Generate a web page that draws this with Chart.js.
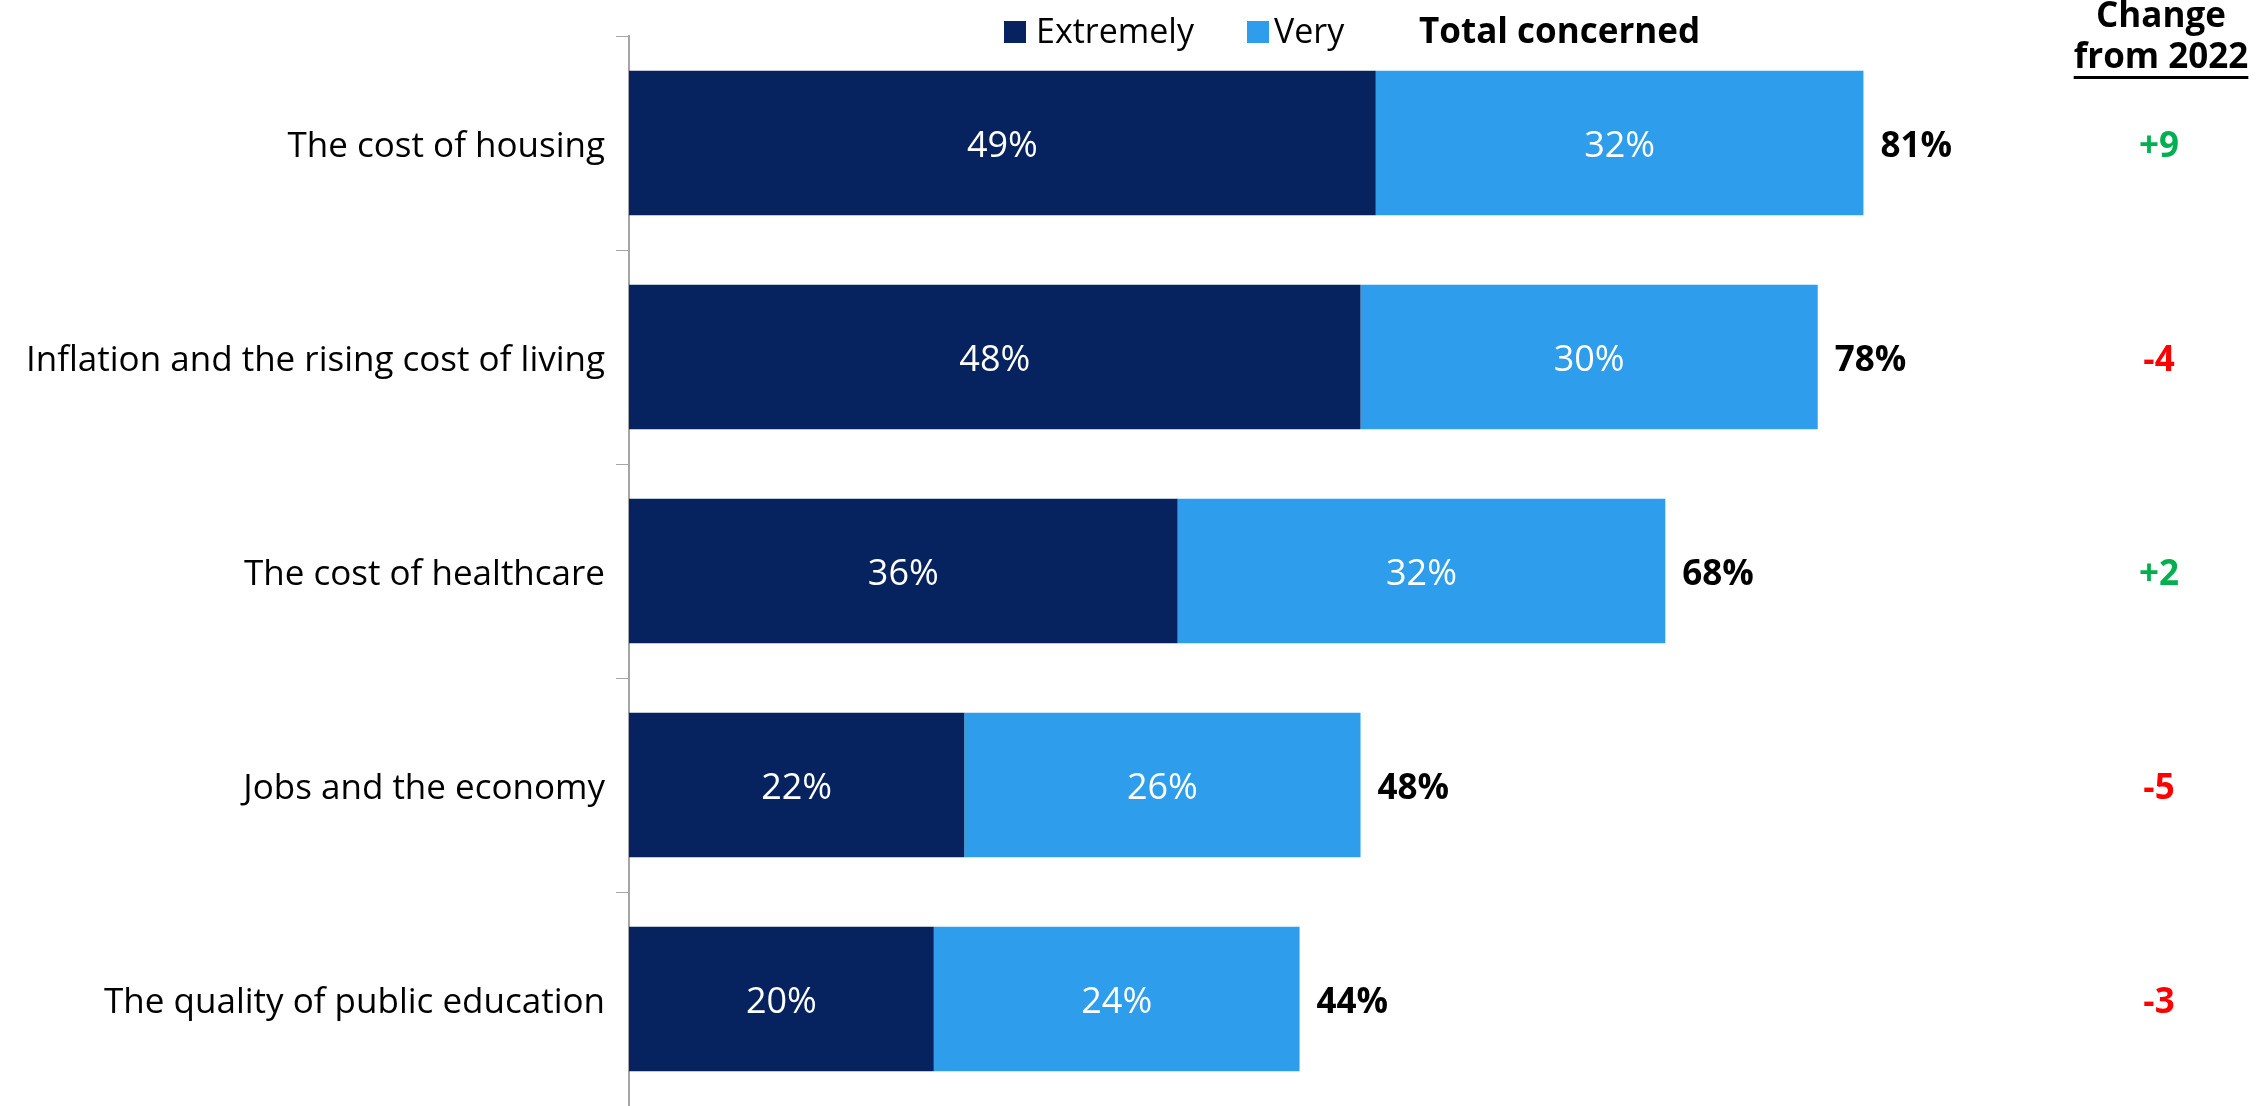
<!DOCTYPE html>
<html>
<head>
<meta charset="utf-8">
<script src="https://cdn.jsdelivr.net/npm/chart.js@4"></script>
<style>
  body { margin: 0; background: #fff; }
  #wrap { width: 2268px; height: 1106px; }
</style>
</head>
<body>
<div id="wrap"><canvas id="myChart" width="2268" height="1106"></canvas></div>
<script>
const categories = ['The cost of housing', 'Inflation and the rising cost of living', 'The cost of healthcare', 'Jobs and the economy', 'The quality of public education']
const extremely = [49, 48, 36, 22, 20]
const very = [32, 30, 32, 26, 24]
const changes = ['+9', '-4', '+2', '-5', '-3']

const FONT = '"Open Sans", "Noto Sans", sans-serif'
const DARK = '#06235f'
const LIGHT = '#2e9eec'

// labels inside the bars, totals, the change column and the header row
const overlay = {
  id: 'overlay',
  afterDatasetsDraw(chart) {
    const ctx = chart.ctx
    const x = chart.scales.x
    ctx.save()
    ctx.textBaseline = 'middle'

    chart.data.datasets.forEach((ds, d) => {
      chart.getDatasetMeta(d).data.forEach((bar, i) => {
        ctx.fillStyle = '#fff'
        ctx.font = '36px ' + FONT
        ctx.textAlign = 'center'
        ctx.fillText(ds.data[i] + '%', (bar.base + bar.x) / 2, bar.y + 4)
      })
    })

    const meta = chart.getDatasetMeta(1)
    meta.data.forEach((bar, i) => {
      const total = extremely[i] + very[i]
      ctx.fillStyle = '#000'
      ctx.font = 'bold 35px ' + FONT
      ctx.textAlign = 'left'
      ctx.fillText(total + '%', x.getPixelForValue(total) + 17, bar.y + 4)

      ctx.fillStyle = changes[i].startsWith('+') ? '#00b050' : '#ff0000'
      ctx.textAlign = 'center'
      ctx.fillText(changes[i], 2159, bar.y + 4)
    })

    // header
    ctx.fillStyle = DARK
    ctx.fillRect(1004, 21, 22, 22)
    ctx.fillStyle = LIGHT
    ctx.fillRect(1247, 21, 22, 22)
    ctx.fillStyle = '#000'
    ctx.textAlign = 'left'
    ctx.font = '34px ' + FONT
    ctx.fillText('Extremely', 1036, 33)
    ctx.fillText('Very', 1274, 33)
    ctx.font = 'bold 35px ' + FONT
    ctx.fillText('Total concerned', 1419, 33)

    ctx.textAlign = 'center'
    ctx.fillText('Change', 2161, 17)
    ctx.fillText('from 2022', 2161, 58)
    const w = ctx.measureText('from 2022').width
    ctx.fillRect(2161 - w / 2, 76, w, 3)
    ctx.restore()
  }
}

const ctx = document.getElementById('myChart').getContext('2d')

const myChart = new Chart(ctx, {
  type: 'bar',
  data: {
    labels: categories,
    datasets: [
      { label: 'Extremely', data: extremely, backgroundColor: DARK },
      { label: 'Very', data: very, backgroundColor: LIGHT }
    ]
  },
  options: {
    indexAxis: 'y',
    responsive: false,
    animation: false,
    barPercentage: 0.675,
    categoryPercentage: 1,
    layout: { padding: { left: 0, right: 115, top: 36, bottom: 0 } },
    plugins: {
      legend: { display: false },
      tooltip: { enabled: false }
    },
    scales: {
      x: {
        stacked: true,
        display: false,
        min: 0,
        max: 100
      },
      y: {
        stacked: true,
        afterFit: (scale) => {
          scale.width = 629
          scale.paddingTop = 0
          scale.paddingBottom = 0
        },
        grid: {
          offset: true,
          drawOnChartArea: false,
          tickLength: 13,
          color: '#a6a6a6'
        },
        border: { color: '#a6a6a6', width: 2 },
        ticks: {
          color: '#000',
          padding: 11,
          labelOffset: 4,
          font: { family: FONT, size: 35 }
        }
      }
    }
  },
  plugins: [overlay]
})
</script>
</body>
</html>
